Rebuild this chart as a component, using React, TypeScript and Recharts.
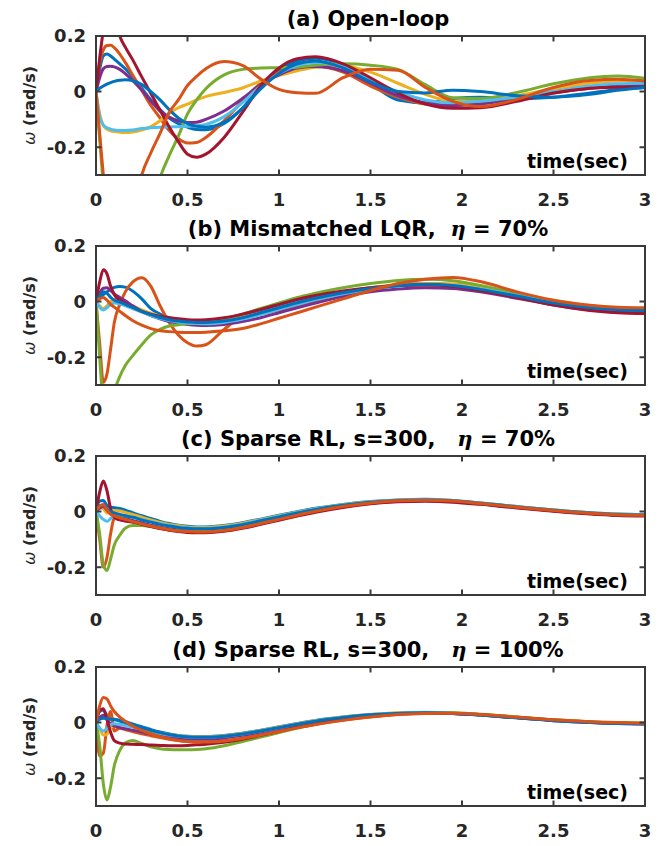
import React from "react";
import { Line, LineChart, XAxis, YAxis } from "recharts";

// sample times (s), shared by every series
const T = [0, 0.02, 0.04, 0.06, 0.08, 0.1, 0.13, 0.16, 0.2, 0.25, 0.3, 0.35, 0.4, 0.45, 0.5, 0.55, 0.6, 0.7, 0.8, 0.9, 1.0, 1.1, 1.2, 1.35, 1.5, 1.65, 1.8, 1.95, 2.1, 2.3, 2.5, 2.7, 2.85, 3.0];

// (a) open-loop
const a1 = [0, 0.08, 0.128, 0.135, 0.128, 0.117, 0.1, 0.082, 0.052, 0.012, -0.03, -0.065, -0.095, -0.115, -0.128, -0.136, -0.137, -0.115, -0.06, 0.02, 0.075, 0.11, 0.12, 0.095, 0.03, -0.03, -0.04, -0.025, -0.02, -0.025, -0.02, -0.005, 0.008, 0.015];
const a2 = [0, 0.1, 0.15, 0.166, 0.167, 0.158, 0.135, 0.105, 0.06, 0.005, -0.05, -0.095, -0.14, -0.17, -0.185, -0.183, -0.165, -0.105, -0.035, 0.03, 0.07, 0.09, 0.09, 0.07, 0.02, -0.02, -0.045, -0.05, -0.04, -0.02, 0.0, 0.018, 0.025, 0.025];
const a3 = [0, -0.08, -0.122, -0.135, -0.141, -0.144, -0.146, -0.147, -0.145, -0.138, -0.126, -0.105, -0.078, -0.058, -0.045, -0.03, -0.018, -0.003, 0.013, 0.038, 0.058, 0.075, 0.088, 0.092, 0.07, 0.03, -0.01, -0.035, -0.035, -0.015, 0.01, 0.03, 0.038, 0.04];
const a4 = [0, 0.05, 0.082, 0.09, 0.091, 0.089, 0.08, 0.065, 0.04, 0.005, -0.035, -0.07, -0.092, -0.105, -0.111, -0.11, -0.1, -0.07, -0.025, 0.025, 0.06, 0.085, 0.09, 0.075, 0.03, -0.015, -0.04, -0.05, -0.045, -0.025, -0.005, 0.012, 0.02, 0.022];
const a5 = [0, -0.17, -0.33, -0.45, -0.55, -0.6, -0.65, -0.66, -0.63, -0.55, -0.43, -0.31, -0.23, -0.16, -0.08, -0.03, 0.01, 0.06, 0.08, 0.085, 0.086, 0.088, 0.095, 0.1, 0.095, 0.08, 0.025, -0.022, -0.025, -0.003, 0.028, 0.05, 0.056, 0.048];
const a6 = [0, -0.09, -0.12, -0.13, -0.135, -0.138, -0.14, -0.14, -0.138, -0.133, -0.13, -0.128, -0.127, -0.126, -0.125, -0.123, -0.118, -0.09, -0.04, 0.02, 0.065, 0.095, 0.105, 0.09, 0.04, 0.0, -0.03, -0.04, -0.035, -0.02, 0.0, 0.02, 0.028, 0.03];
const a7 = [0, 0.12, 0.22, 0.29, 0.31, 0.28, 0.2, 0.16, 0.115, 0.053, -0.007, -0.067, -0.127, -0.18, -0.225, -0.236, -0.225, -0.165, -0.075, 0.02, 0.085, 0.118, 0.125, 0.1, 0.05, -0.005, -0.045, -0.06, -0.058, -0.035, -0.005, 0.012, 0.016, 0.016];
const a8 = [0, 0.012, 0.02, 0.027, 0.032, 0.037, 0.041, 0.043, 0.04, 0.025, 0.0, -0.03, -0.065, -0.095, -0.115, -0.125, -0.128, -0.11, -0.06, 0.01, 0.065, 0.1, 0.11, 0.085, 0.035, 0.0, -0.005, 0.005, 0.0, -0.015, -0.02, -0.01, 0.005, 0.015];
const a9 = [0, -0.15, -0.3, -0.45, -0.55, -0.6, -0.6, -0.55, -0.45, -0.3, -0.22, -0.15, -0.075, -0.03, 0.022, 0.055, 0.082, 0.108, 0.094, 0.045, 0.008, -0.004, -0.006, 0.05, 0.08, 0.077, 0.015, -0.035, -0.054, -0.028, 0.015, 0.04, 0.044, 0.038];

// (b) mismatched LQR, eta = 70%
const b1 = [0, 0.012, 0.025, 0.035, 0.045, 0.051, 0.054, 0.052, 0.038, 0.01, -0.025, -0.045, -0.058, -0.065, -0.068, -0.07, -0.07, -0.064, -0.052, -0.035, -0.018, 0.0, 0.015, 0.035, 0.05, 0.06, 0.064, 0.06, 0.045, 0.02, -0.005, -0.022, -0.028, -0.03];
const b2 = [0, -0.15, -0.29, -0.26, -0.17, -0.075, -0.01, 0.035, 0.07, 0.086, 0.055, -0.015, -0.075, -0.12, -0.148, -0.16, -0.155, -0.1, -0.055, -0.045, -0.03, -0.012, 0.005, 0.027, 0.045, 0.058, 0.064, 0.062, 0.05, 0.025, 0.0, -0.018, -0.026, -0.03];
const b3 = [0, -0.015, -0.025, -0.015, 0.0, 0.008, 0.005, -0.003, -0.015, -0.03, -0.042, -0.053, -0.062, -0.068, -0.072, -0.074, -0.074, -0.068, -0.056, -0.04, -0.022, -0.004, 0.012, 0.033, 0.05, 0.06, 0.065, 0.062, 0.05, 0.028, 0.005, -0.015, -0.024, -0.027];
const b4 = [0, 0.03, 0.048, 0.05, 0.04, 0.028, 0.015, 0.003, -0.015, -0.035, -0.05, -0.062, -0.072, -0.078, -0.082, -0.085, -0.086, -0.082, -0.072, -0.058, -0.04, -0.022, -0.005, 0.018, 0.035, 0.045, 0.05, 0.047, 0.035, 0.012, -0.012, -0.03, -0.038, -0.04];
const b5 = [0, -0.2, -0.38, -0.46, -0.42, -0.33, -0.27, -0.23, -0.195, -0.155, -0.12, -0.1, -0.088, -0.083, -0.08, -0.077, -0.073, -0.062, -0.045, -0.025, -0.005, 0.015, 0.03, 0.05, 0.065, 0.076, 0.08, 0.075, 0.058, 0.03, 0.0, -0.02, -0.027, -0.03];
const b6 = [0, -0.02, -0.03, -0.022, -0.01, -0.005, -0.008, -0.015, -0.025, -0.038, -0.05, -0.06, -0.068, -0.073, -0.077, -0.079, -0.08, -0.075, -0.063, -0.047, -0.028, -0.01, 0.007, 0.028, 0.045, 0.056, 0.061, 0.058, 0.045, 0.022, -0.002, -0.02, -0.027, -0.03];
const b7 = [0, 0.07, 0.115, 0.1, 0.055, 0.025, 0.005, -0.008, -0.02, -0.035, -0.045, -0.053, -0.058, -0.062, -0.065, -0.066, -0.065, -0.058, -0.045, -0.028, -0.01, 0.008, 0.022, 0.038, 0.05, 0.058, 0.06, 0.055, 0.04, 0.015, -0.012, -0.032, -0.04, -0.043];
const b8 = [0, 0.02, 0.035, 0.03, 0.015, 0.005, -0.002, -0.01, -0.02, -0.035, -0.047, -0.057, -0.065, -0.07, -0.073, -0.075, -0.075, -0.07, -0.058, -0.04, -0.022, -0.004, 0.012, 0.032, 0.047, 0.057, 0.062, 0.058, 0.044, 0.02, -0.005, -0.022, -0.029, -0.032];
const b9 = [0, 0.01, 0.015, 0.005, -0.01, -0.02, -0.035, -0.05, -0.068, -0.085, -0.097, -0.105, -0.108, -0.11, -0.111, -0.111, -0.11, -0.105, -0.097, -0.08, -0.06, -0.04, -0.02, 0.01, 0.04, 0.065, 0.08, 0.087, 0.072, 0.035, 0.005, -0.013, -0.02, -0.022];

// (c) sparse RL, s=300, eta = 70%
const c1 = [0, 0.038, 0.04, 0.022, 0.016, 0.014, 0.011, 0.005, -0.004, -0.015, -0.025, -0.035, -0.043, -0.049, -0.053, -0.055, -0.055, -0.05, -0.04, -0.027, -0.013, 0.0, 0.012, 0.026, 0.036, 0.042, 0.044, 0.04, 0.031, 0.018, 0.006, -0.004, -0.009, -0.011];
const c2 = [0, -0.1, -0.2, -0.165, -0.08, -0.025, -0.028, -0.033, -0.038, -0.046, -0.053, -0.06, -0.066, -0.07, -0.073, -0.074, -0.074, -0.069, -0.058, -0.044, -0.029, -0.014, 0.0, 0.017, 0.03, 0.037, 0.04, 0.037, 0.028, 0.015, 0.003, -0.007, -0.012, -0.014];
const c3 = [0, 0.015, 0.01, -0.005, 0.0, 0.004, 0.002, -0.003, -0.01, -0.02, -0.03, -0.039, -0.046, -0.051, -0.055, -0.057, -0.057, -0.052, -0.042, -0.029, -0.015, -0.002, 0.01, 0.025, 0.035, 0.041, 0.043, 0.04, 0.031, 0.018, 0.006, -0.004, -0.009, -0.011];
const c4 = [0, 0.012, 0.018, 0.005, -0.008, -0.014, -0.02, -0.025, -0.032, -0.041, -0.049, -0.056, -0.062, -0.066, -0.069, -0.07, -0.07, -0.065, -0.054, -0.04, -0.025, -0.011, 0.003, 0.019, 0.031, 0.038, 0.04, 0.037, 0.028, 0.015, 0.003, -0.007, -0.012, -0.014];
const c5 = [0, -0.08, -0.19, -0.212, -0.17, -0.12, -0.085, -0.06, -0.05, -0.05, -0.054, -0.06, -0.065, -0.069, -0.071, -0.072, -0.072, -0.067, -0.056, -0.042, -0.027, -0.013, 0.001, 0.018, 0.031, 0.038, 0.041, 0.038, 0.029, 0.016, 0.004, -0.006, -0.011, -0.013];
const c6 = [0, -0.015, -0.028, -0.035, -0.025, -0.015, -0.012, -0.015, -0.02, -0.028, -0.036, -0.044, -0.05, -0.055, -0.058, -0.06, -0.06, -0.055, -0.045, -0.031, -0.017, -0.003, 0.009, 0.024, 0.035, 0.041, 0.043, 0.04, 0.031, 0.018, 0.006, -0.004, -0.009, -0.011];
const c7 = [0, 0.07, 0.11, 0.075, 0.01, -0.02, -0.03, -0.034, -0.037, -0.046, -0.054, -0.061, -0.067, -0.072, -0.075, -0.076, -0.076, -0.071, -0.06, -0.046, -0.031, -0.016, -0.002, 0.015, 0.028, 0.035, 0.037, 0.034, 0.026, 0.013, 0.001, -0.009, -0.014, -0.016];
const c8 = [0, 0.02, 0.025, 0.01, 0.0, -0.005, -0.01, -0.015, -0.02, -0.03, -0.038, -0.046, -0.052, -0.057, -0.06, -0.062, -0.062, -0.057, -0.047, -0.033, -0.019, -0.005, 0.008, 0.023, 0.034, 0.04, 0.042, 0.039, 0.03, 0.017, 0.005, -0.005, -0.01, -0.012];
const c9 = [0, 0.02, 0.025, 0.005, -0.01, -0.015, -0.022, -0.028, -0.035, -0.044, -0.052, -0.059, -0.065, -0.07, -0.072, -0.073, -0.073, -0.068, -0.057, -0.043, -0.028, -0.013, 0.001, 0.018, 0.031, 0.039, 0.041, 0.038, 0.029, 0.016, 0.004, -0.006, -0.011, -0.013];

// (d) sparse RL, s=300, eta = 100%
const d1 = [0, 0.04, 0.045, 0.025, 0.015, 0.012, 0.008, 0.003, -0.005, -0.015, -0.025, -0.034, -0.041, -0.046, -0.049, -0.05, -0.05, -0.046, -0.038, -0.027, -0.015, -0.003, 0.008, 0.02, 0.029, 0.034, 0.036, 0.034, 0.028, 0.018, 0.008, 0.001, -0.002, -0.004];
const d2 = [0, -0.12, -0.11, -0.01, 0.04, -0.03, -0.02, -0.025, -0.032, -0.04, -0.047, -0.054, -0.06, -0.064, -0.067, -0.069, -0.069, -0.065, -0.056, -0.044, -0.031, -0.018, -0.006, 0.009, 0.021, 0.03, 0.034, 0.034, 0.029, 0.019, 0.009, 0.002, -0.001, -0.003];
const d3 = [0, -0.02, -0.045, -0.042, -0.02, -0.01, -0.008, -0.01, -0.015, -0.022, -0.03, -0.037, -0.043, -0.047, -0.05, -0.051, -0.051, -0.047, -0.039, -0.028, -0.016, -0.004, 0.007, 0.02, 0.029, 0.035, 0.037, 0.035, 0.029, 0.019, 0.009, 0.002, -0.001, -0.002];
const d4 = [0, 0.018, 0.026, 0.012, -0.005, -0.012, -0.018, -0.022, -0.027, -0.034, -0.041, -0.047, -0.052, -0.056, -0.058, -0.059, -0.059, -0.055, -0.046, -0.034, -0.021, -0.008, 0.004, 0.017, 0.027, 0.033, 0.035, 0.033, 0.027, 0.017, 0.007, 0.0, -0.003, -0.004];
const d5 = [0, -0.08, -0.22, -0.278, -0.23, -0.155, -0.1, -0.073, -0.064, -0.075, -0.087, -0.094, -0.097, -0.098, -0.098, -0.097, -0.094, -0.083, -0.068, -0.052, -0.036, -0.02, -0.005, 0.012, 0.025, 0.033, 0.036, 0.035, 0.03, 0.02, 0.01, 0.003, 0.0, -0.002];
const d6 = [0, -0.02, -0.03, -0.02, -0.008, -0.004, -0.006, -0.01, -0.016, -0.024, -0.032, -0.039, -0.045, -0.049, -0.052, -0.053, -0.053, -0.049, -0.041, -0.03, -0.018, -0.006, 0.005, 0.018, 0.028, 0.034, 0.036, 0.034, 0.028, 0.018, 0.008, 0.001, -0.002, -0.004];
const d7 = [0, 0.045, 0.05, 0.01, -0.035, -0.065, -0.074, -0.077, -0.078, -0.079, -0.081, -0.082, -0.083, -0.083, -0.082, -0.08, -0.078, -0.071, -0.06, -0.046, -0.032, -0.017, -0.004, 0.011, 0.023, 0.031, 0.034, 0.033, 0.028, 0.018, 0.008, 0.001, -0.002, -0.004];
const d8 = [0, 0.012, 0.016, 0.015, 0.012, 0.01, 0.006, 0.0, -0.008, -0.018, -0.028, -0.036, -0.043, -0.048, -0.051, -0.053, -0.053, -0.049, -0.041, -0.03, -0.018, -0.006, 0.005, 0.018, 0.028, 0.033, 0.035, 0.033, 0.027, 0.017, 0.007, 0.0, -0.003, -0.005];
const d9 = [0, 0.06, 0.09, 0.085, 0.06, 0.04, 0.02, 0.005, -0.012, -0.028, -0.04, -0.05, -0.058, -0.064, -0.068, -0.07, -0.07, -0.066, -0.057, -0.045, -0.032, -0.019, -0.007, 0.008, 0.02, 0.029, 0.033, 0.034, 0.029, 0.02, 0.01, 0.003, 0.0, -0.002];

// MATLAB default line colour order
const COLORS = ["#0072BD", "#D95319", "#EDB120", "#7E2F8E", "#77AC30", "#4DBEEE", "#A2142F", "#0072BD", "#D95319"];
const X_TICKS = [0, 0.5, 1, 1.5, 2, 2.5, 3];
const Y_TICKS = [-0.2, 0, 0.2];
const X_DOMAIN = [0, 3];
const Y_DOMAIN = [-0.3, 0.2];

const AXIS = "#262626";
const FONT = "'DejaVu Sans', sans-serif";
const tickStyle = { fill: AXIS, fontSize: 18, fontWeight: "bold", fontFamily: FONT };

// plot-area geometry shared by the charts and the overlay box
const CHART_W = 661;
const CHART_H = 210;
const MARGIN = { top: 36, right: 16, bottom: 5, left: 36 };
const Y_AXIS_W = 60;
const X_AXIS_H = 30;
const PLOT_LEFT = MARGIN.left + Y_AXIS_W;
const PLOT_RIGHT = CHART_W - MARGIN.right;
const PLOT_TOP = MARGIN.top;
const PLOT_BOTTOM = CHART_H - MARGIN.bottom - X_AXIS_H;
const TICK_LEN = 5.5;
const CHART_TOPS = [0, 210, 420, 631];

function buildRows(series: number[][]) {
  return T.map((t, i) => {
    const row: Record<string, number> = { t };
    series.forEach((s, k) => {
      row[`s${k}`] = s[i];
    });
    return row;
  });
}

function Panel({ series, top }: { series: number[][]; top: number }) {
  const rows = buildRows(series);
  return (
    <div style={{ position: "absolute", left: 0, top, width: CHART_W, height: CHART_H }}>
      <LineChart width={CHART_W} height={CHART_H} data={rows} margin={MARGIN}>
        <XAxis
          dataKey="t"
          type="number"
          domain={X_DOMAIN}
          ticks={X_TICKS}
          interval={0}
          allowDataOverflow
          height={X_AXIS_H}
          axisLine={false}
          tickLine={false}
          tickSize={0}
          tickMargin={18}
          tick={tickStyle}
          tickFormatter={(v: number) => String(v)}
        />
        <YAxis
          type="number"
          domain={Y_DOMAIN}
          ticks={Y_TICKS}
          interval={0}
          allowDataOverflow
          width={Y_AXIS_W}
          axisLine={false}
          tickLine={false}
          tickSize={0}
          tickMargin={10}
          tick={tickStyle}
          tickFormatter={(v: number) => String(v)}
        />
        {series.map((_, k) => (
          <Line
            key={k}
            type="monotone"
            dataKey={`s${k}`}
            stroke={COLORS[k]}
            strokeWidth={3}
            dot={false}
            isAnimationActive={false}
          />
        ))}
      </LineChart>
    </div>
  );
}

// box with inward ticks on all four sides, as MATLAB draws it (one path)
function framePath(top: number) {
  const y0 = top + PLOT_TOP;
  const y1 = top + PLOT_BOTTOM;
  const px = (v: number) => PLOT_LEFT + ((v - X_DOMAIN[0]) / (X_DOMAIN[1] - X_DOMAIN[0])) * (PLOT_RIGHT - PLOT_LEFT);
  const py = (v: number) => y0 + ((Y_DOMAIN[1] - v) / (Y_DOMAIN[1] - Y_DOMAIN[0])) * (y1 - y0);
  let d = `M${PLOT_LEFT},${y0}H${PLOT_RIGHT}V${y1}H${PLOT_LEFT}Z`;
  X_TICKS.forEach((v) => {
    d += `M${px(v)},${y1}V${y1 - TICK_LEN}M${px(v)},${y0}V${y0 + TICK_LEN}`;
  });
  Y_TICKS.forEach((v) => {
    d += `M${PLOT_LEFT},${py(v)}H${PLOT_LEFT + TICK_LEN}M${PLOT_RIGHT},${py(v)}H${PLOT_RIGHT - TICK_LEN}`;
  });
  return d;
}

function Eta() {
  return (
    <tspan fontFamily="'DejaVu Serif', serif" fontStyle="italic">
      η
    </tspan>
  );
}

export default function App() {
  const titles = [
    <>(a) Open-loop</>,
    <>
      (b) Mismatched LQR,{"  "}
      <Eta /> = 70%
    </>,
    <>
      (c) Sparse RL, s=300,{"   "}
      <Eta /> = 70%
    </>,
    <>
      (d) Sparse RL, s=300,{"   "}
      <Eta /> = 100%
    </>,
  ];
  const panels = [
    [a1, a2, a3, a4, a5, a6, a7, a8, a9],
    [b1, b2, b3, b4, b5, b6, b7, b8, b9],
    [c1, c2, c3, c4, c5, c6, c7, c8, c9],
    [d1, d2, d3, d4, d5, d6, d7, d8, d9],
  ];

  return (
    <div style={{ position: "absolute", left: 0, top: 0, width: 661, height: 846, background: "#fff" }}>
      {panels.map((series, i) => (
        <Panel key={i} series={series} top={CHART_TOPS[i]} />
      ))}
      <svg width={661} height={846} style={{ position: "absolute", left: 0, top: 0, pointerEvents: "none" }}>
        {CHART_TOPS.map((top, i) => {
          const pTop = top + PLOT_TOP;
          const pBottom = top + PLOT_BOTTOM;
          const mid = (pTop + pBottom) / 2;
          return (
            <g key={i}>
              <path d={framePath(top)} stroke="#3a3a3a" strokeWidth={2} fill="none" />
              <text
                x={368}
                y={pTop - 10}
                textAnchor="middle"
                fontFamily={FONT}
                fontWeight="bold"
                fontSize={21}
                fill="#000"
                xmlSpace="preserve"
                style={{ whiteSpace: "pre" }}
              >
                {titles[i]}
              </text>
              <text x={628} y={pBottom - 7} textAnchor="end" fontFamily={FONT} fontWeight="bold" fontSize={19} fill="#000">
                time(sec)
              </text>
              <text
                transform={`translate(35, ${mid}) rotate(-90)`}
                textAnchor="middle"
                fontFamily={FONT}
                fontWeight="bold"
                fontSize={16}
                fill={AXIS}
              >
                <tspan fontStyle="italic" fontWeight="normal">ω</tspan> (rad/s)
              </text>
            </g>
          );
        })}
      </svg>
    </div>
  );
}
